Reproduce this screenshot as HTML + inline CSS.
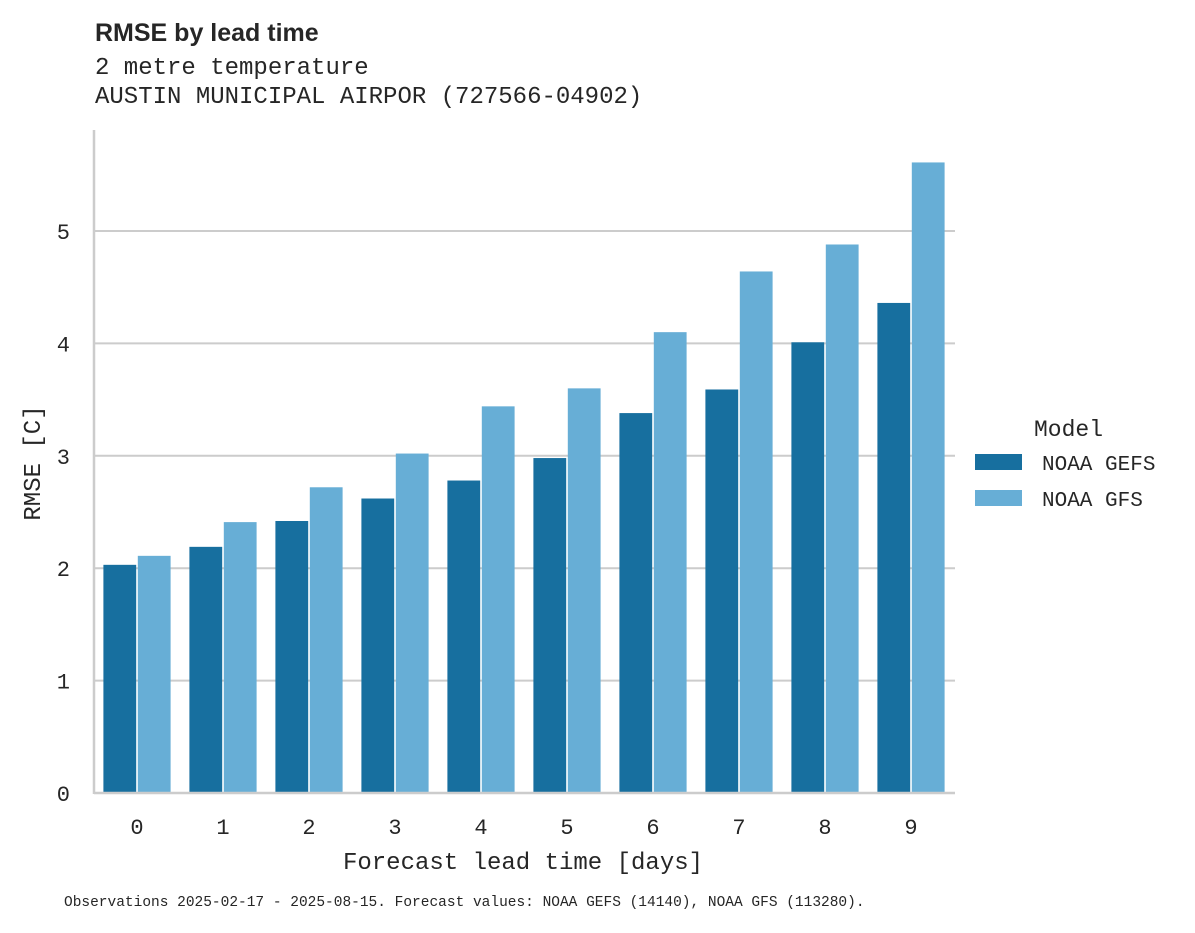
<!DOCTYPE html>
<html><head><meta charset="utf-8">
<style>
body{margin:0;background:#fff;}
svg text{font-family:"Liberation Mono",monospace;fill:#262626;}
</style></head>
<body>
<svg width="1195" height="928" viewBox="0 0 1195 928">
<text x="95" y="41" style="font-family:'Liberation Sans',sans-serif;font-weight:bold;font-size:25px">RMSE by lead time</text>
<text x="95" y="74" font-size="24">2 metre temperature</text>
<text x="95" y="103" font-size="24">AUSTIN MUNICIPAL AIRPOR (727566-04902)</text>
<g id="grid"></g>
<g id="bars"></g>
<g id="axes"></g>
<text x="523" y="869" font-size="24" text-anchor="middle">Forecast lead time [days]</text>
<text transform="translate(40,463) rotate(-90)" font-size="24" text-anchor="middle">RMSE [C]</text>
<g>
<text x="1034" y="436" font-size="23">Model</text>
<rect x="975" y="454" width="47" height="16" fill="#176f9f"/>
<text x="1042" y="470" font-size="21">NOAA GEFS</text>
<rect x="975" y="490" width="47" height="16" fill="#67aed6"/>
<text x="1042" y="506" font-size="21">NOAA GFS</text>
</g>
<text x="64" y="906" font-size="14.5">Observations 2025-02-17 - 2025-08-15. Forecast values: NOAA GEFS (14140), NOAA GFS (113280).</text>
</svg>
<script>
const categories=[0,1,2,3,4,5,6,7,8,9];
const gefsValues=[2.03,2.19,2.42,2.62,2.78,2.98,3.38,3.59,4.01,4.36];
const gfsValues=[2.11,2.41,2.72,3.02,3.44,3.60,4.10,4.64,4.88,5.61];
const yTicks=[0,1,2,3,4,5];
const NS="http://www.w3.org/2000/svg";
const x0=137,step=86,yBase=793,yUnit=112.4,plotL=94,plotR=955;
function xScale(i){return x0+i*step;}
function yScale(v){return yBase-v*yUnit;}
function mk(tag,attrs,parent){const e=document.createElementNS(NS,tag);for(const k in attrs)e.setAttribute(k,attrs[k]);parent.appendChild(e);return e;}
const grid=document.getElementById('grid'),bars=document.getElementById('bars'),axes=document.getElementById('axes');
yTicks.forEach(t=>{
 if(t>0){const g=mk('line',{x1:plotL,x2:plotR,y1:yScale(t),y2:yScale(t),stroke:'#cccccc','stroke-width':2},grid);
 
 }
 const l=mk('text',{x:70,y:yScale(t)+8,'font-size':22,'text-anchor':'end'},axes);
 l.textContent=t;
 
 
});
const bw=34.4;
categories.forEach((c,i)=>{
 const cx=xScale(i);
 const a=mk('rect',{x:cx-bw+0.8,y:yScale(gefsValues[i]),width:bw-1.6,height:yBase-yScale(gefsValues[i]),fill:'#176f9f'},bars);
 
 
 const b=mk('rect',{x:cx+0.8,y:yScale(gfsValues[i]),width:bw-1.6,height:yBase-yScale(gfsValues[i]),fill:'#67aed6'},bars);
 
 
 const t=mk('text',{x:cx,y:834,'font-size':22,'text-anchor':'middle'},axes);
 t.textContent=c;
 
 
});
const ya=mk('line',{x1:plotL,x2:plotL,y1:130,y2:yBase+1,stroke:'#cccccc','stroke-width':2.5},axes);


const xa=mk('line',{x1:plotL,x2:plotR,y1:yBase,y2:yBase,stroke:'#cccccc','stroke-width':2.5},axes);


</script>
</body></html>
